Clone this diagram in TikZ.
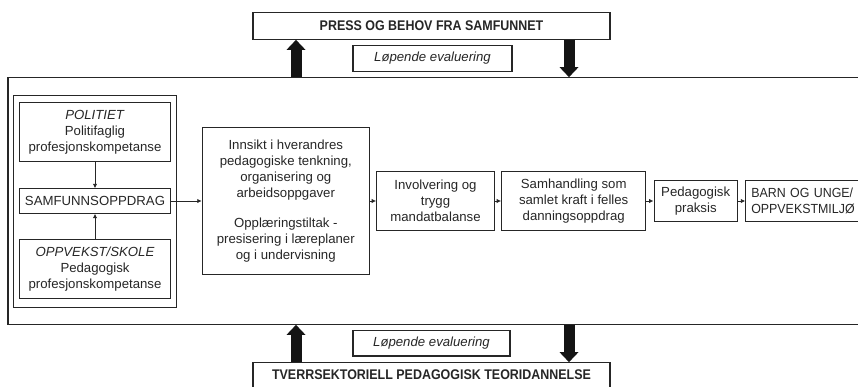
\documentclass[tikz,border=0pt]{standalone}
\usepackage{fontspec}
\setmainfont{Liberation Sans}
\newfontfamily\headfont[FakeStretch=0.89]{Liberation Sans}
\newfontfamily\narrowfont[FakeStretch=0.94]{Liberation Sans}
\usetikzlibrary{arrows.meta,calc}
\definecolor{ink}{HTML}{262626}
\begin{document}
\begin{tikzpicture}[x=1pt,y=-1pt,
  box/.style={draw=ink, line width=1.1pt, align=center, inner sep=0pt, text=ink,
              font=\fontsize{13.2}{16}\selectfont},
  headbox/.style={box, font=\headfont\fontsize{14}{16}\selectfont\bfseries},
  evalbox/.style={box, font=\fontsize{13.2}{16}\selectfont\itshape},
  flow/.style={draw=ink, line width=0.9pt, -{Latex[length=4.5pt,width=4.5pt]}},
  bigarrow/.style={draw=black!92, line width=11pt,
                   -{Triangle[length=10pt,width=19pt,line width=0pt]}}]
\useasboundingbox (0,0) rectangle (858,386);
\clip (0,0) rectangle (858,386);

% society level
\node[headbox, minimum width=357, minimum height=26.6] (press) at (431.5,26) {PRESS OG BEHOV FRA SAMFUNNET};
\node[evalbox, minimum width=159, minimum height=25.6] (evtop) at (432.5,58.5) {Løpende evaluering};

% main frame (runs past the right edge)
\node[draw=ink, line width=1.1pt, minimum width=872, minimum height=246.6, inner sep=0pt] (frame) at (444,201) {};

% left group
\node[box, minimum width=163.4, minimum height=212.3] (group) at (95,201.2) {};
\node[box, minimum width=151.4, minimum height=59] (pol) at (95,132.2)
  {\textit{POLITIET}\\Politifaglig\\profesjonskompetanse};
\node[box, minimum width=151.4, minimum height=24.3] (samf) at (95,201) {SAMFUNNSOPPDRAG};
\node[box, minimum width=151.4, minimum height=59] (opp) at (95,268.8)
  {\textit{OPPVEKST/SKOLE}\\Pedagogisk\\profesjonskompetanse};

% chain of steps
\node[box, minimum width=167, minimum height=146.7] (innsikt) at (285.8,201)
  {Innsikt i hverandres\\pedagogiske tenkning,\\organisering og\\arbeidsoppgaver\\[14pt]Opplæringstiltak -\\presisering i læreplaner\\og i undervisning};
\node[box, minimum width=117.6, minimum height=59] (inv) at (435.5,201)
  {Involvering og\\trygg\\mandatbalanse};
\node[box, minimum width=144, minimum height=59] (sam) at (573.7,201)
  {Samhandling som\\samlet kraft i felles\\danningsoppdrag};
\node[box, minimum width=83.3, minimum height=40.7] (ped) at (695.7,201)
  {Pedagogisk\\praksis};
\node[box, font=\narrowfont\fontsize{13.2}{16}\selectfont, text width=125, align=left,
      inner xsep=5.4pt, minimum height=40.7, anchor=west] (barn) at (745.3,201)
  {BARN OG UNGE/\\OPPVEKSTMILJØ};

% theory level
\node[evalbox, minimum width=157, minimum height=25.3] (evbot) at (431.5,343.3) {Løpende evaluering};
\node[headbox, minimum width=357, minimum height=24.6] (teori) at (431.5,375) {TVERRSEKTORIELL PEDAGOGISK TEORIDANNELSE};

% small connectors
\draw[flow] (pol.south) -- (samf.north);
\draw[flow] (opp.north) -- (samf.south);
\draw[flow] (samf.east) -- (innsikt.west);
\draw[flow] (innsikt.east) -- (inv.west);
\draw[flow] (inv.east) -- (sam.west);
\draw[flow] (sam.east) -- (ped.west);
\draw[flow] (ped.east) -- (barn.west);

% exchange with society and theory
\coordinate (ux) at (296,0);
\coordinate (dx) at (569,0);
\draw[bigarrow] (frame.north -| ux) -- (press.south -| ux);
\draw[bigarrow] (press.south -| dx) -- (frame.north -| dx);
\draw[bigarrow] (teori.north -| ux) -- (frame.south -| ux);
\draw[bigarrow] (frame.south -| dx) -- (teori.north -| dx);
\end{tikzpicture}
\end{document}
